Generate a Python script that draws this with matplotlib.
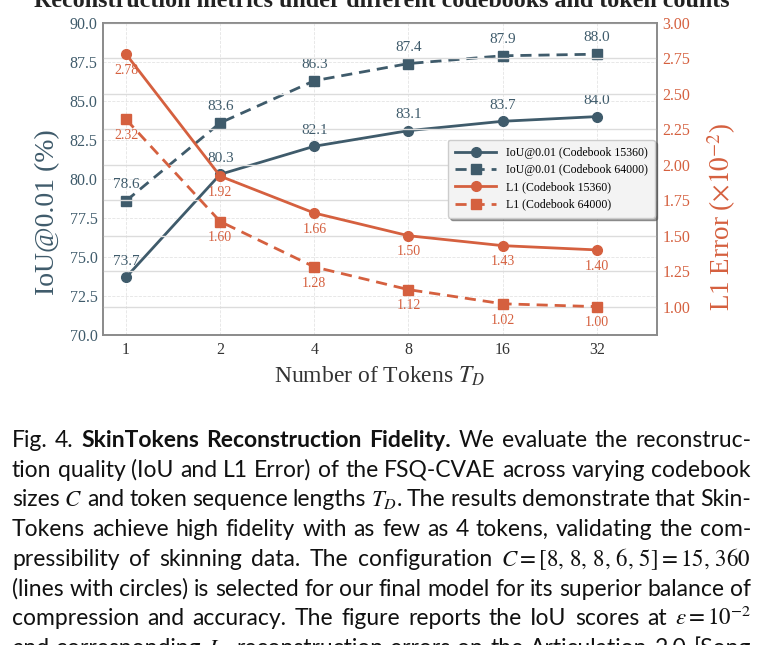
import matplotlib
matplotlib.use("Agg")
import matplotlib.pyplot as plt
import numpy as np

# Data
tokens = ["1", "2", "4", "8", "16", "32"]
iou_15360 = [73.7, 80.3, 82.1, 83.1, 83.7, 84.0]
iou_64000 = [78.6, 83.6, 86.3, 87.4, 87.9, 88.0]
l1_15360 = [2.78, 1.92, 1.66, 1.50, 1.43, 1.40]
l1_64000 = [2.32, 1.60, 1.28, 1.12, 1.02, 1.00]

title = "Reconstruction metrics under different codebooks and token counts"

# Caption lines, "*" marks a bold word
caption_lines = [
    "Fig. 4. *SkinTokens *Reconstruction *Fidelity. We evaluate the reconstruc-",
    "tion quality (IoU and L1 Error) of the FSQ-CVAE across varying codebook",
    "sizes $C$ and token sequence lengths $T_D$. The results demonstrate that Skin-",
    "Tokens achieve high fidelity with as few as 4 tokens, validating the com-",
    r"pressibility of skinning data. The configuration $C=[8,\,8,\,8,\,6,\,5]=15,\,360$",
    "(lines with circles) is selected for our final model for its superior balance of",
    r"compression and accuracy. The figure reports the IoU scores at $\varepsilon=10^{-2}$",
    "and corresponding $L_1$ reconstruction errors on the Articulation 2.0 [Song",
]

SLATE = "#3f5b6b"
ORANGE = "#d5603f"

plt.rcParams["font.family"] = ["Liberation Serif", "DejaVu Serif"]
plt.rcParams["mathtext.fontset"] = "stix"

W, H = 763, 645
fig = plt.figure(figsize=(W / 100, H / 100), dpi=100)
ax = fig.add_axes([103 / W, 1 - 335 / H, 554 / W, 312 / H])
ax2 = ax.twinx()

x = np.arange(len(tokens))

# IoU on the left axis
l_a, = ax.plot(x, iou_15360, color=SLATE, lw=2, marker="o", ms=7,
               label="IoU@0.01 (Codebook 15360)")
l_b, = ax.plot(x, iou_64000, color=SLATE, lw=2, ls=(0, (4, 2.5)), marker="s", ms=6.5,
               label="IoU@0.01 (Codebook 64000)")
for xi, v in zip(x, iou_15360):
    ax.annotate(f"{v:.1f}", (xi, v), xytext=(0, 7), textcoords="offset points",
                ha="center", va="bottom", fontsize=11, color=SLATE)
for xi, v in zip(x, iou_64000):
    ax.annotate(f"{v:.1f}", (xi, v), xytext=(0, 7), textcoords="offset points",
                ha="center", va="bottom", fontsize=11, color=SLATE)

# L1 on the right axis
l_c, = ax2.plot(x, l1_15360, color=ORANGE, lw=2, marker="o", ms=7,
                label="L1 (Codebook 15360)")
l_d, = ax2.plot(x, l1_64000, color=ORANGE, lw=2, ls=(0, (4, 2.5)), marker="s", ms=6.5,
                label="L1 (Codebook 64000)")
for xi, v in zip(x, l1_15360):
    ax2.annotate(f"{v:.2f}", (xi, v), xytext=(0, -7), textcoords="offset points",
                 ha="center", va="top", fontsize=10, color=ORANGE)
for xi, v in zip(x, l1_64000):
    ax2.annotate(f"{v:.2f}", (xi, v), xytext=(0, -7), textcoords="offset points",
                 ha="center", va="top", fontsize=10, color=ORANGE)

ax.set_xlim(-0.245, 5.64)
ax.set_xticks(x)
ax.set_xticklabels(tokens)
ax.set_ylim(70, 90)
ax.set_yticks(np.arange(70, 90.1, 2.5))
ax.yaxis.set_major_formatter(matplotlib.ticker.FormatStrFormatter("%.1f"))
ax2.set_ylim(0.8, 3.0)
ax2.set_yticks(np.arange(1.0, 3.01, 0.25))
ax2.yaxis.set_major_formatter(matplotlib.ticker.FormatStrFormatter("%.2f"))

ax.tick_params(axis="y", colors=SLATE, labelsize=11.5, length=0, pad=4)
ax.tick_params(axis="x", colors="#333333", labelsize=11.5, length=0, pad=5)
ax2.tick_params(axis="y", colors=ORANGE, labelsize=11.5, length=0, pad=4)

ax.grid(True, ls="--", lw=0.6, color="#e4e4e4")
ax2.grid(True, axis="y", ls="-", lw=1.0, color="#dcdcdc")
ax2.set_axisbelow(True)
for a in (ax, ax2):
    for s in a.spines.values():
        s.set_color("#8a8a8a")
        s.set_linewidth(1.2)

ax.set_ylabel("IoU@0.01 (%)", fontsize=20, color=SLATE)
ax2.set_ylabel(r"L1 Error ($\times10^{-2}$)", fontsize=19.5, color=ORANGE)
ax.yaxis.set_label_coords(-0.078, 0.395)
ax2.yaxis.set_label_coords(1.088, 0.38)
ax.set_xlabel("Number of Tokens $T_D$", fontsize=17, color="#333333", labelpad=5)

ax2.legend(handles=[l_a, l_b, l_c, l_d], loc="upper left",
           bbox_to_anchor=(0.612, 0.645), fontsize=8.5, handlelength=3.5,
           frameon=True, shadow=True, facecolor="#f3f3f3", edgecolor="#cccccc",
           framealpha=1.0, borderpad=0.6, labelspacing=0.45)

fig.text(0.5, 1 - 7 / H, title, ha="center", va="baseline", fontsize=17.3,
         fontweight="bold", color="#222222")

# Justified caption below the chart
renderer = fig.canvas.get_renderer()
x0, x1 = 12, 751
base0, step = 447, 29.7
for i, line in enumerate(caption_lines):
    y = 1 - (base0 + i * step) / H
    size = 16.5
    while True:
        texts = []
        for w in line.split():
            bold = w.startswith("*")
            t = fig.text(0, y, w.lstrip("*"), fontsize=size, va="baseline", ha="left",
                         family=["Lato", "DejaVu Sans"], color="#111111",
                         fontweight="bold" if bold else "normal")
            texts.append(t)
        widths = [t.get_window_extent(renderer).width for t in texts]
        gap = (x1 - x0 - sum(widths)) / (len(texts) - 1)
        if gap >= 3.5 or size < 10:
            break
        for t in texts:
            t.remove()
        size -= 0.25
    xp = x0
    for t, wd in zip(texts, widths):
        t.set_x(xp / W)
        xp += wd + gap

fig.savefig("out.png", dpi=100)
